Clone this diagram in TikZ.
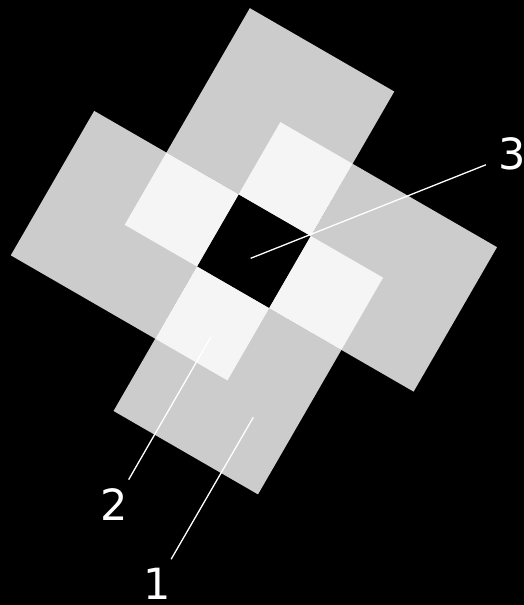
\documentclass[tikz,border=0pt]{standalone}
\usepackage{fontspec}
\setmainfont{DejaVu Sans}
\usepackage{tikz}
\definecolor{fond}{HTML}{000000}
\definecolor{arm}{HTML}{CCCCCC}
\definecolor{lap}{HTML}{F5F5F5}
\definecolor{ink}{HTML}{FFFFFF}

\begin{document}
\begin{tikzpicture}[x=0.5pt, y=-0.5pt,
  lbl/.style={circle, inner sep=0pt, text=ink,
    font=\fontsize{21.5}{24}\selectfont},
  lead/.style={ink, line width=0.65pt, shorten >=3.5pt}]
  % Background
  \fill[fond] (0,0) rectangle (524,605);
  \useasboundingbox (0,0) rectangle (524,605);

  % Four squares round the hole, turned by 30 degrees
  \begin{scope}[shift={(253.9,251.25)}, rotate=-30, scale=83.4]
    \fill[arm] (-1.5,-2.5) rectangle (0.5,-0.5);
    \fill[arm] (0.5,-1.5) rectangle (2.5,0.5);
    \fill[arm] (-0.5,0.5) rectangle (1.5,2.5);
    \fill[arm] (-2.5,-0.5) rectangle (-0.5,1.5);

    % Lighter cells next to the hole
    \fill[lap] (-0.5,-1.5) rectangle (0.5,-0.5);
    \fill[lap] (0.5,-0.5) rectangle (1.5,0.5);
    \fill[lap] (-0.5,0.5) rectangle (0.5,1.5);
    \fill[lap] (-1.5,-0.5) rectangle (-0.5,0.5);
  \end{scope}

  % Pointer ends
  \coordinate (p1) at (253.3,417.3);
  \coordinate (p2) at (211,336.7);
  \coordinate (p3) at (250.7,258.3);

  % Labels
  \node[lbl] (l1) at (157,583.6) {1};
  \node[lbl] (l2) at (114.5,504.2) {2};
  \node[lbl] (l3) at (512.5,154.2) {3};

  \draw[lead] (p1) -- (l1);
  \draw[lead] (p2) -- (l2);
  \draw[lead] (p3) -- (l3);
\end{tikzpicture}
\end{document}
